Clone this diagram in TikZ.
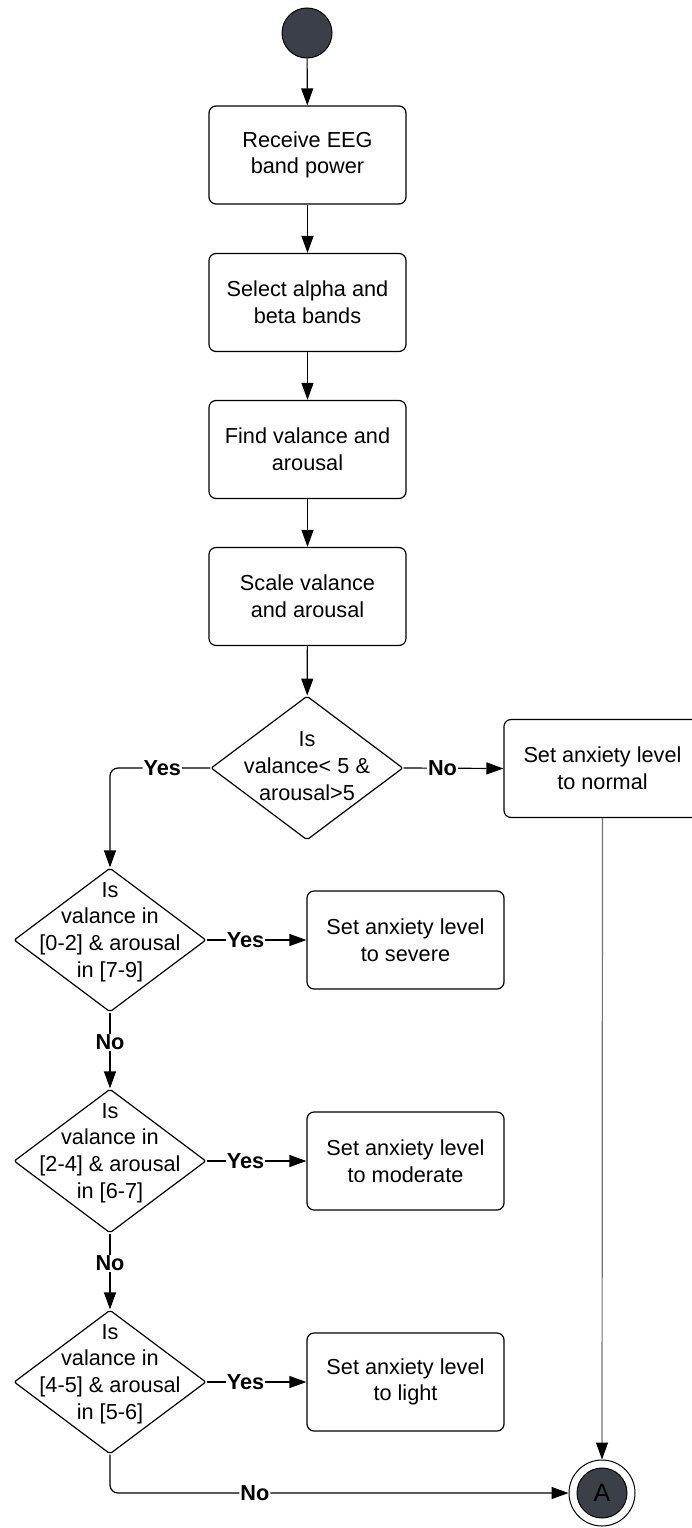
\documentclass[tikz,border=0pt]{standalone}
\usepackage{fontspec}
\setmainfont{Liberation Sans}
\usetikzlibrary{shapes.geometric,arrows.meta}
\definecolor{dark}{HTML}{3B3F48}
\begin{document}
\begin{tikzpicture}[x=1pt,y=-1pt,
  font=\fontsize{21.7}{26.7}\selectfont,
  line width=1.2pt,
  box/.style={draw, rounded corners=7pt, minimum width=197pt, minimum height=98pt, align=center, inner sep=0pt},
  dec/.style={draw, diamond, minimum width=192pt, minimum height=144pt, inner sep=0pt, rounded corners=2pt},
  arr/.style={-{Triangle[length=17pt,width=12pt,color=black]}},
  lab/.style={fill=white, font=\fontsize{21.7}{24}\selectfont\bfseries, inner sep=1pt},
  dtext/.style={align=center}
]
\useasboundingbox (0,0) rectangle (691,1528);
\node[circle, fill=dark, draw=black, line width=1pt, minimum size=50pt, inner sep=0pt] (start) at (307,33) {};
\node[box] (b1) at (307.5,155) {Receive EEG\\band power};
\node[box] (b2) at (307.5,302.5) {Select alpha and\\beta bands};
\node[box] (b3) at (307.5,449.5) {Find valance and\\arousal};
\node[box] (b4) at (307.5,596.5) {Scale valance\\and arousal};
\node[dec, label={[dtext,yshift=2pt]center:Is\\valance< 5 \&\\arousal>5}] (d1) at (307,768) {};
\node[box] (normal) at (602.5,768.5) {Set anxiety level\\to normal};
\node[dec, label={[dtext,yshift=8pt]center:Is\\valance in\\{[0-2]} \& arousal\\in {[7-9]}}] (d2) at (110,940) {};
\node[box] (severe) at (405.5,940) {Set anxiety level\\to severe};
\node[dec, label={[dtext,yshift=8pt]center:Is\\valance in\\{[2-4]} \& arousal\\in {[6-7]}}] (d3) at (110,1161) {};
\node[box] (moderate) at (405.5,1161) {Set anxiety level\\to moderate};
\node[dec, label={[dtext,yshift=8pt]center:Is\\valance in\\{[4-5]} \& arousal\\in {[5-6]}}] (d4) at (110,1382) {};
\node[box] (light) at (405.5,1382) {Set anxiety level\\to light};
\node[circle, draw=black, line width=1pt, minimum size=66pt, inner sep=0pt] (end) at (602,1493) {};
\node[circle, fill=dark, draw=black, line width=1pt, minimum size=50pt, inner sep=0pt, font=\fontsize{25}{25}\selectfont] (endin) at (end) {A};
\draw[arr] (start) -- (b1);
\draw[arr] (b1) -- (b2);
\draw[arr] (b2) -- (b3);
\draw[arr] (b3) -- (b4);
\draw[arr] (b4) -- (d1);
\draw[arr, rounded corners=8pt] (d1.west) -| node[lab, pos=0.24]{Yes} (d2.north);
\draw[arr] (d1.east) -- node[lab, pos=0.39]{No} (normal.west);
\draw[arr, draw=black!55] (normal.south) -- (end.north);
\draw[arr] (d2.east) -- node[lab, pos=0.39]{Yes} (severe.west);
\draw[arr] (d2.south) -- node[lab, pos=0.39]{No} (d3.north);
\draw[arr] (d3.east) -- node[lab, pos=0.39]{Yes} (moderate.west);
\draw[arr] (d3.south) -- node[lab, pos=0.39]{No} (d4.north);
\draw[arr] (d4.east) -- node[lab, pos=0.39]{Yes} (light.west);
\draw[arr, rounded corners=8pt] (d4.south) |- node[lab, pos=0.658]{No} (end.west);
\end{tikzpicture}
\end{document}
